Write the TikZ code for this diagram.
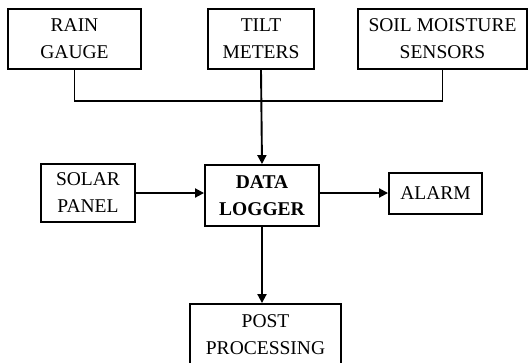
\documentclass[tikz,border=0pt]{standalone}
\usepackage{fontspec}
\setmainfont{Liberation Serif}
\usetikzlibrary{arrows.meta}
\begin{document}
\begin{tikzpicture}[x=1pt,y=-1pt,
  box/.style={draw,line width=1.9pt,minimum width=#1,align=center,inner sep=0pt,
    font=\fontsize{19.5}{27}\selectfont},
  link/.style={line width=1.9pt},
  arr/.style={line width=1.9pt,-{Triangle[length=9pt,width=9pt]}}]
\useasboundingbox (0,0) rectangle (530,362);
\clip (0,0) rectangle (530,362);
\node[box=133pt,minimum height=60pt] (rain) at (74.5,39) {RAIN\\GAUGE};
\node[box=106pt,minimum height=60pt] (tilt) at (261,39) {TILT\\METERS};
\node[box=169pt,minimum height=60pt] (soil) at (442.5,39) {SOIL MOISTURE\\SENSORS};
\node[box=94pt,minimum height=58pt] (solar) at (88,193) {SOLAR\\PANEL};
\node[box=114pt,minimum height=61pt,font=\fontsize{19.5}{27}\selectfont\bfseries] (data) at (262,195.5) {DATA\\LOGGER};
\node[box=93pt,minimum height=41pt] (alarm) at (435.5,193.5) {ALARM};
\node[box=151pt,minimum height=62pt] (post) at (265.5,335) {POST\\PROCESSING};
\coordinate (bus) at (0,101);
\draw[link] (rain.south) -- (rain.south |- bus) -- (soil.south |- bus) -- (soil.south);
\draw[arr] (tilt.south) -- (data.north);
\draw[arr] (solar.east |- 0,193) -- (data.west |- 0,193);
\draw[arr] (data.east |- 0,193) -- (alarm.west |- 0,193);
\draw[arr] (data.south) -- (data.south |- post.north);
\end{tikzpicture}
\end{document}
